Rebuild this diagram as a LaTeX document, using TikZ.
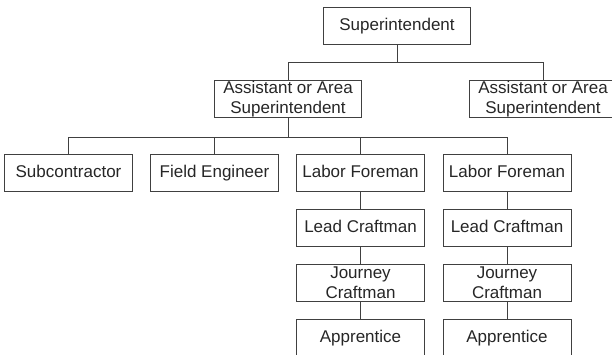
\documentclass[tikz,border=0pt]{standalone}
\usepackage{fontspec}
\setmainfont{Liberation Sans}
\usepackage{tikz}
\tikzset{
  block/.style     = {draw, rectangle, align=center, inner sep=0pt, minimum height=37pt, minimum width=128pt},
  wideblock/.style = {block, minimum width=147pt},
  single/.style    = {text height=12.5pt, text depth=3.5pt},
  link/.style      = {draw=black!75, line width=0.8pt}
}

\begin{document}
\begin{tikzpicture}[node distance=55pt, every node/.style={draw=black!75, line width=0.8pt, text=black!85, font=\fontsize{17}{20}\selectfont}]
\useasboundingbox (0,0) rectangle (612pt,-354pt);

% Top level
\draw node [wideblock, single] at (397pt,-25.5pt) (sup) {Superintendent};

% Assistants
\draw node [wideblock, below of=sup, xshift=-109pt, node distance=73.5pt] (asst1) {Assistant or Area\\Superintendent};
\draw node [wideblock, right of=asst1, node distance=255pt] (asst2) {Assistant or Area\\Superintendent};

% Third level
\draw node [block, single, below of=asst1, xshift=-219.5pt, node distance=73.5pt] (sub) {Subcontractor};
\draw node [block, single, right of=sub, node distance=146pt] (fe) {Field Engineer};
\draw node [block, single, right of=fe, node distance=146pt] (lf1) {Labor Foreman};
\draw node [block, single, right of=lf1, node distance=146.5pt] (lf2) {Labor Foreman};

% Crafts under each foreman
\draw node [block, single, below of=lf1] (lc1) {Lead Craftman};
\draw node [block, below of=lc1] (jc1) {Journey\\Craftman};
\draw node [block, single, below of=jc1] (ap1) {Apprentice};
\draw node [block, single, below of=lf2] (lc2) {Lead Craftman};
\draw node [block, below of=lc2] (jc2) {Journey\\Craftman};
\draw node [block, single, below of=jc2] (ap2) {Apprentice};

% Connections
\draw[link] (sup.south) -- ++(0,-18pt) -| (asst1.north);
\draw[link] (sup.south) -- ++(0,-18pt) -| (asst2.north);
\draw[link] (asst1.south) -- ++(0,-19pt) -| (sub.north);
\draw[link] (asst1.south) -- ++(0,-19pt) -| (fe.north);
\draw[link] (asst1.south) -- ++(0,-19pt) -| (lf1.north);
\draw[link] (asst1.south) -- ++(0,-19pt) -| (lf2.north);
\draw[link] (lf1) -- (lc1);
\draw[link] (lc1) -- (jc1);
\draw[link] (jc1) -- (ap1);
\draw[link] (lf2) -- (lc2);
\draw[link] (lc2) -- (jc2);
\draw[link] (jc2) -- (ap2);

\end{tikzpicture}
\end{document}
